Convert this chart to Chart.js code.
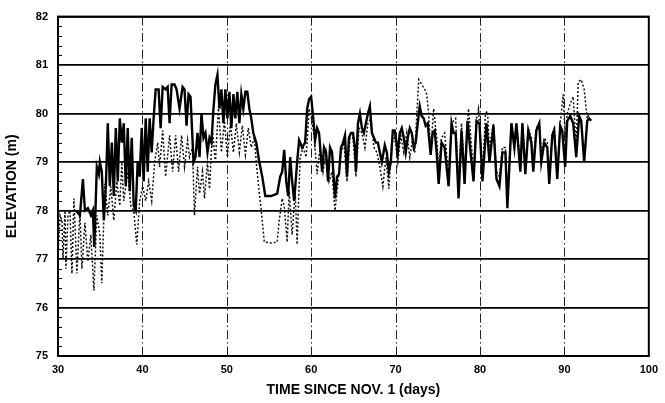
<!DOCTYPE html>
<html>
<head>
<meta charset="utf-8">
<script src="https://cdn.jsdelivr.net/npm/chart.js@4/dist/chart.umd.min.js"></script>
<style>
  html, body { margin: 0; padding: 0; background: #fff; }
  #wrap { width: 665px; height: 403px; }
</style>
</head>
<body>
<div id="wrap"><canvas id="chart" width="665" height="403"></canvas></div>
<script>
// solid line
const solidDays = [32.13, 32.60, 32.95, 33.19, 33.54, 33.90, 34.13, 34.30, 34.60, 34.84, 34.96, 35.19, 35.43, 35.67, 35.90, 36.14, 36.38, 36.61, 36.85, 37.08, 37.32, 37.56, 37.79, 38.03, 38.26, 38.50, 38.74, 38.97, 39.21, 39.44, 39.68, 39.92, 40.15, 40.39, 40.63, 40.86, 41.10, 41.33, 41.57, 41.92, 42.16, 42.40, 42.75, 42.99, 43.22, 43.46, 43.81, 44.05, 44.40, 44.76, 44.99, 45.23, 45.47, 45.70, 46.06, 46.29, 46.53, 46.77, 47.00, 47.24, 47.47, 47.71, 47.95, 48.18, 48.42, 48.65, 48.89, 49.13, 49.36, 49.60, 49.83, 50.07, 50.31, 50.54, 50.78, 51.01, 51.25, 51.49, 51.72, 51.96, 52.20, 52.43, 52.67, 52.90, 53.14, 53.49, 53.85, 54.20, 54.56, 55.26, 55.97, 56.33, 56.56, 56.80, 57.04, 57.27, 57.51, 57.74, 57.98, 58.33, 58.57, 58.92, 59.28, 59.52, 59.75, 59.99, 60.22, 60.46, 60.70, 60.93, 61.29, 61.52, 61.76, 61.99, 62.23, 62.47, 62.82, 63.06, 63.29, 63.53, 63.77, 64.00, 64.24, 64.47, 64.71, 64.95, 65.18, 65.30, 65.54, 65.77, 66.01, 66.24, 66.48, 66.72, 66.95, 67.19, 67.43, 67.66, 67.90, 68.13, 68.37, 68.72, 68.96, 69.20, 69.43, 69.67, 69.90, 70.26, 70.49, 70.73, 70.97, 71.20, 71.44, 71.68, 71.91, 72.15, 72.38, 72.62, 72.86, 73.09, 73.33, 73.56, 73.80, 74.15, 74.39, 74.63, 74.86, 75.10, 75.45, 75.81, 76.04, 76.28, 76.63, 76.87, 77.11, 77.46, 77.81, 78.17, 78.52, 78.88, 79.23, 79.59, 79.94, 80.29, 80.77, 81.12, 81.59, 81.95, 82.30, 82.65, 83.01, 83.24, 83.72, 84.07, 84.31, 84.78, 85.02, 85.37, 85.72, 86.08, 86.31, 86.67, 87.02, 87.26, 87.61, 87.97, 88.20, 88.56, 88.79, 89.15, 89.50, 89.74, 90.09, 90.33, 90.69, 91.04, 91.40, 91.75, 91.99, 92.34, 92.70, 92.93, 93.17];
const solidElev = [78.0, 77.9, 78.65, 78.0, 78.05, 77.9, 78.0, 77.25, 78.9, 78.75, 79.0, 78.8, 77.8, 78.5, 79.8, 78.5, 79.4, 78.3, 79.7, 78.6, 79.9, 79.4, 79.8, 78.5, 79.7, 78.4, 79.5, 78.1, 78.0, 79.0, 78.7, 79.7, 78.6, 79.9, 78.8, 79.9, 79.2, 79.9, 80.5, 80.5, 79.7, 80.55, 80.5, 80.55, 79.8, 80.6, 80.6, 80.5, 80.1, 80.55, 80.5, 79.75, 80.4, 80.35, 79.0, 79.1, 79.6, 79.1, 80.0, 79.5, 79.6, 79.2, 79.5, 79.4, 80.1, 80.6, 80.8, 80.1, 80.5, 79.8, 80.5, 79.9, 80.45, 79.7, 80.4, 79.9, 80.45, 79.8, 80.4, 80.1, 80.45, 80.45, 80.1, 79.9, 79.6, 79.4, 79.0, 78.7, 78.3, 78.3, 78.35, 78.7, 78.8, 79.25, 78.6, 78.3, 79.1, 78.6, 78.2, 79.0, 79.45, 79.3, 79.4, 80.1, 80.3, 80.35, 79.95, 79.45, 79.7, 79.6, 78.8, 79.3, 79.2, 78.6, 79.3, 79.2, 78.25, 78.7, 78.75, 79.3, 79.4, 79.55, 78.7, 79.5, 79.6, 79.6, 79.3, 78.8, 79.8, 80.0, 79.7, 79.6, 79.8, 80.0, 80.15, 79.6, 79.5, 79.4, 79.4, 79.2, 79.0, 79.35, 79.2, 78.8, 79.0, 79.65, 79.65, 79.2, 79.6, 79.7, 79.5, 79.2, 79.5, 79.7, 79.6, 79.3, 79.4, 79.8, 80.15, 79.95, 79.9, 79.75, 79.8, 79.15, 79.6, 79.65, 79.2, 78.55, 79.4, 79.3, 78.9, 78.5, 79.8, 79.6, 79.6, 78.25, 79.65, 78.55, 79.85, 79.2, 78.6, 79.85, 79.8, 78.6, 79.8, 79.0, 79.75, 78.65, 78.5, 79.2, 79.2, 78.05, 79.8, 79.3, 79.8, 78.8, 79.8, 78.75, 79.65, 79.4, 78.8, 79.65, 79.8, 79.0, 79.4, 79.3, 78.55, 79.55, 79.65, 78.65, 79.75, 79.65, 78.9, 79.85, 79.95, 79.8, 79.1, 79.95, 79.85, 79.0, 79.85, 79.9, 79.85];

// dotted line
const dottedDays = [30.05, 30.25, 30.47, 30.59, 30.83, 30.94, 31.18, 31.42, 31.65, 31.89, 32.24, 32.60, 32.83, 33.19, 33.54, 33.90, 34.25, 34.60, 34.96, 35.19, 35.55, 35.90, 36.26, 36.61, 36.97, 37.32, 37.56, 37.79, 38.26, 38.62, 38.97, 39.33, 39.68, 40.04, 40.39, 40.74, 41.10, 41.45, 41.81, 42.04, 42.40, 42.75, 43.22, 43.58, 43.93, 44.29, 44.64, 44.99, 45.35, 45.58, 45.94, 46.17, 46.53, 46.77, 47.12, 47.36, 47.71, 47.95, 48.30, 48.65, 49.01, 49.36, 49.72, 50.07, 50.42, 50.78, 51.13, 51.49, 51.84, 52.20, 52.55, 52.90, 53.26, 53.49, 53.85, 54.08, 54.44, 55.26, 55.97, 56.21, 56.56, 56.80, 57.15, 57.39, 57.74, 58.10, 58.33, 58.69, 59.04, 59.40, 59.75, 59.99, 60.34, 60.70, 61.05, 61.40, 61.76, 62.11, 62.47, 62.82, 63.18, 63.53, 63.88, 64.24, 64.59, 64.95, 65.30, 65.66, 66.01, 66.36, 66.72, 67.07, 67.43, 67.78, 68.13, 68.49, 68.84, 69.20, 69.55, 69.90, 70.26, 70.61, 70.97, 71.32, 71.68, 72.03, 72.27, 72.50, 72.74, 73.09, 73.45, 73.68, 73.92, 74.15, 74.51, 74.86, 75.10, 75.45, 75.81, 76.28, 76.63, 77.11, 77.46, 77.81, 78.17, 78.64, 79.23, 79.59, 79.82, 80.29, 80.65, 80.88, 81.12, 81.59, 81.95, 82.30, 82.65, 83.01, 83.24, 83.72, 84.07, 84.31, 84.78, 85.02, 85.37, 85.72, 86.08, 86.31, 86.67, 87.02, 87.26, 87.61, 87.97, 88.20, 88.56, 88.79, 89.15, 89.50, 89.86, 90.09, 90.33, 90.69, 91.04, 91.40, 91.63, 91.99, 92.34, 92.70, 92.93];
const dottedElev = [77.2, 77.9, 77.8, 77.0, 78.0, 76.8, 77.9, 78.0, 76.7, 78.25, 76.7, 78.0, 76.8, 77.75, 76.95, 77.5, 76.35, 77.9, 77.5, 76.5, 78.55, 77.9, 78.5, 77.8, 78.6, 78.1, 79.0, 78.2, 78.8, 78.1, 78.0, 77.3, 78.2, 78.5, 78.2, 78.6, 78.2, 79.0, 79.4, 78.9, 79.65, 78.7, 79.55, 78.8, 79.55, 78.8, 79.55, 78.9, 79.45, 79.1, 79.3, 77.9, 78.9, 78.35, 78.8, 78.25, 79.0, 78.45, 79.65, 79.0, 80.15, 79.2, 79.85, 79.1, 79.8, 79.2, 79.8, 79.2, 79.75, 79.15, 79.7, 79.3, 79.5, 79.0, 78.35, 78.0, 77.35, 77.33, 77.35, 77.8, 78.25, 78.1, 77.35, 78.4, 77.5, 78.4, 77.3, 79.1, 79.3, 79.1, 80.1, 79.95, 79.55, 78.75, 79.3, 78.8, 79.2, 78.6, 78.8, 78.0, 78.6, 79.2, 79.4, 78.6, 79.5, 79.5, 78.7, 79.7, 79.6, 79.3, 79.8, 79.9, 79.3, 79.2, 78.9, 78.5, 79.1, 78.45, 79.4, 79.5, 79.0, 79.55, 79.2, 79.6, 79.1, 79.5, 79.2, 79.95, 80.7, 80.6, 80.5, 80.4, 80.0, 79.2, 80.1, 79.5, 78.9, 79.5, 79.6, 78.7, 79.8, 79.9, 78.5, 79.8, 78.8, 80.1, 78.8, 79.9, 80.1, 78.8, 80.0, 80.05, 79.3, 79.8, 78.8, 78.7, 79.3, 79.3, 78.3, 79.8, 79.4, 79.8, 79.0, 79.8, 78.9, 79.7, 79.5, 79.0, 79.7, 79.8, 79.1, 79.5, 79.4, 78.6, 79.6, 79.7, 78.7, 79.8, 80.4, 79.5, 80.0, 80.2, 80.35, 79.3, 80.65, 80.7, 80.5, 79.9, 80.0];

const xTicks = [30, 40, 50, 60, 70, 80, 90, 100];
const yTicks = [75, 76, 77, 78, 79, 80, 81, 82];
const xTitle = 'TIME SINCE NOV. 1 (days)';
const yTitle = 'ELEVATION (m)';

const FONT = '"Liberation Sans", Arial, sans-serif';

const toPoints = (xs, ys) => xs.map((x, i) => ({ x: x, y: ys[i] }));

// vertical dash-dot grid, minor y ticks, frame
const decorations = {
    id: 'decorations',
    beforeDatasetsDraw(chart) {
        const { ctx, chartArea: a, scales: { x, y } } = chart;
        ctx.save();
        ctx.strokeStyle = '#222';
        ctx.lineWidth = 1;
        ctx.setLineDash([9, 3, 1.5, 3]);
        xTicks.slice(1, -1).forEach(v => {
            const px = Math.round(x.getPixelForValue(v)) + 0.5;
            ctx.beginPath();
            ctx.moveTo(px, a.top);
            ctx.lineTo(px, a.bottom);
            ctx.stroke();
        });
        ctx.setLineDash([]);
        ctx.strokeStyle = '#000';
        for (let i = 1; i < 35; i++) {
            if (i % 5 === 0) continue;
            const py = Math.round(y.getPixelForValue(75 + i * 0.2)) + 0.5;
            ctx.beginPath();
            ctx.moveTo(a.left, py);
            ctx.lineTo(a.left + 4, py);
            ctx.stroke();
        }
        ctx.restore();
    },
    afterDraw(chart) {
        const { ctx, chartArea: a } = chart;
        ctx.save();
        ctx.strokeStyle = '#000';
        ctx.lineWidth = 2;
        ctx.strokeRect(a.left, a.top, a.right - a.left, a.bottom - a.top);
        ctx.restore();
    }
};

new Chart(document.getElementById('chart'), {
    type: 'line',
    data: {
        datasets: [
            {
                label: 'solid',
                data: toPoints(solidDays, solidElev),
                borderColor: '#000',
                borderWidth: 2.4,
                pointRadius: 0,
                tension: 0,
                order: 0
            },
            {
                label: 'dotted',
                data: toPoints(dottedDays, dottedElev),
                borderColor: '#111',
                borderWidth: 1.5,
                borderDash: [2, 2],
                pointRadius: 0,
                tension: 0,
                order: 1
            }
        ]
    },
    options: {
        responsive: false,
        animation: false,
        devicePixelRatio: 1,
        layout: { padding: { top: 12, right: 14, bottom: 0, left: 0 } },
        plugins: {
            legend: { display: false },
            tooltip: { enabled: false }
        },
        scales: {
            x: {
                type: 'linear',
                min: 30,
                max: 100,
                afterBuildTicks: s => { s.ticks = xTicks.map(v => ({ value: v })); },
                afterFit: s => { s.height = 47; },
                grid: { display: false, drawTicks: false },
                border: { display: false },
                ticks: {
                    padding: 7,
                    color: '#000',
                    font: { family: FONT, size: 11, weight: 'bold' }
                },
                title: {
                    display: true,
                    text: xTitle,
                    color: '#000',
                    padding: { top: 0, bottom: 4 },
                    font: { family: FONT, size: 14, weight: 'bold' }
                }
            },
            y: {
                type: 'linear',
                min: 75,
                max: 82,
                afterBuildTicks: s => { s.ticks = yTicks.map(v => ({ value: v })); },
                afterFit: s => { s.width = 58; },
                grid: { color: '#000', lineWidth: 1.7, drawTicks: false },
                border: { display: false },
                ticks: {
                    padding: 10,
                    color: '#000',
                    font: { family: FONT, size: 11, weight: 'bold' }
                },
                title: {
                    display: true,
                    text: yTitle,
                    color: '#000',
                    padding: { top: 4, bottom: 0 },
                    font: { family: FONT, size: 14, weight: 'bold' }
                }
            }
        }
    },
    plugins: [decorations]
});
</script>
</body>
</html>
